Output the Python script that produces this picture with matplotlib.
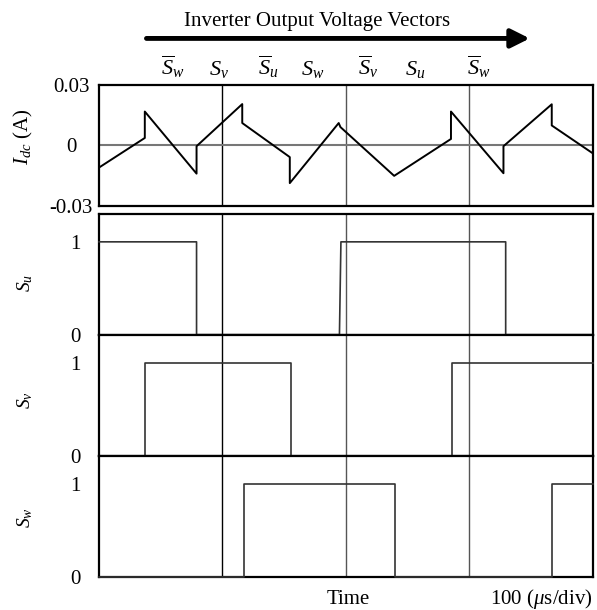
import matplotlib
matplotlib.use("Agg")
import matplotlib.pyplot as plt
import matplotlib.transforms as mtransforms
from matplotlib.patches import FancyArrowPatch

plt.rcParams['font.family'] = ['Liberation Serif', 'DejaVu Serif']
plt.rcParams['mathtext.fontset'] = 'custom'
plt.rcParams['mathtext.rm'] = 'Liberation Serif'
plt.rcParams['mathtext.it'] = 'Liberation Serif:italic'

# DC link current (time in us, current in A)
t_idc = [0, 37.1, 37.1, 79.0, 79.0, 116.0, 116.0, 154.5, 154.5, 194.1, 195.5,
         239.0, 285.0, 285.0, 327.5, 327.5, 366.6, 366.6, 400]
i_dc = [-0.0111, 0.0036, 0.0167, -0.0141, -0.0005, 0.0204, 0.0110, -0.0059, -0.0188,
        0.0110, 0.0090, -0.0152, 0.0031, 0.0167, -0.0139, -0.0005, 0.0203, 0.0098, -0.0041]

# switching states
su_t = [0, 79.0, 79.0, 194.7, 195.9, 329.3, 329.3, 400]
su = [1, 1, 0, 0, 1, 1, 0, 0]
sv_t = [0, 37.1, 37.1, 155.6, 155.6, 285.9, 285.9, 400]
sv = [0, 0, 1, 1, 0, 0, 1, 1]
sw_t = [0, 117.5, 117.5, 240.0, 240.0, 367.2, 367.2, 400]
sw = [0, 0, 1, 1, 0, 0, 1, 1]

vec_labels = [r'$\overline{S}_w$', r'$S_v$', r'$\overline{S}_u$', r'$S_w$',
              r'$\overline{S}_v$', r'$S_u$', r'$\overline{S}_w$']
vec_t = [59.8, 97.0, 137.3, 172.7, 217.6, 256.4, 307.6]

div_t = [100, 200, 300]
div_colors = ['black', '#555555', '#555555']

fig = plt.figure(figsize=(5.97, 6.10), dpi=100)
left, width = 0.1658, 0.8275
ax0 = fig.add_axes([left, 0.6628, width, 0.1983])
ax1 = fig.add_axes([left, 0.4513, width, 0.1979])
ax2 = fig.add_axes([left, 0.2530, width, 0.1983])
ax3 = fig.add_axes([left, 0.0546, width, 0.1984])

ax0.plot(t_idc, i_dc, color='black', lw=1.4, zorder=3)
ax0.axhline(0, color='#777777', lw=1.5, zorder=2)
ax0.set_ylim(-0.03, 0.03)
ax0.set_yticks([0.03, 0, -0.03])
ax0.set_yticklabels(['0.03', '0', '-0.03'])
ax0.tick_params(axis='y', length=0, pad=20, labelsize=15)
for lab in ax0.get_yticklabels():
    lab.set_horizontalalignment('center')

for ax, tt, ss in [(ax1, su_t, su), (ax2, sv_t, sv), (ax3, sw_t, sw)]:
    ax.plot(tt, ss, color='#333333', lw=1.2, zorder=3, clip_on=False)
    ax.set_ylim(0, 1.3)
    ax.set_yticks([0, 1])
    ax.set_yticklabels(['0', '1'])
    ax.tick_params(axis='y', length=0, pad=13, labelsize=15)

for ax in [ax0, ax1, ax2, ax3]:
    ax.set_xlim(0, 400)
    ax.set_xticks([])
    for x, c in zip(div_t, div_colors):
        ax.axvline(x, color=c, lw=1.0, zorder=1)
    for sp in ax.spines.values():
        sp.set_linewidth(1.6)

# y labels
fig.text(0.0385, 0.776, r'$I_{dc}$ (A)', rotation=90, ha='center', va='center', fontsize=15)
fig.text(0.042, 0.536, r'$S_u$', rotation=90, ha='center', va='center', fontsize=14)
fig.text(0.042, 0.344, r'$S_v$', rotation=90, ha='center', va='center', fontsize=14)
fig.text(0.042, 0.151, r'$S_w$', rotation=90, ha='center', va='center', fontsize=14)

# voltage vector labels above the plot
trans = mtransforms.blended_transform_factory(ax0.transData, fig.transFigure)
for lab, t in zip(vec_labels, vec_t):
    fig.text(t, 0.877, lab, transform=trans, ha='center', va='baseline', fontsize=16)

fig.text(0.5305, 0.9644, 'Inverter Output Voltage Vectors', ha='center', va='center', fontsize=15)
fig.add_artist(FancyArrowPatch(
    (0.2407, 0.937), (0.892, 0.937), transform=fig.transFigure,
    arrowstyle='-|>', mutation_scale=28, lw=3.5, color='black'))

fig.text(0.584, 0.018, 'Time', ha='center', va='center', fontsize=15)
fig.text(0.992, 0.018, r'100 ($\mu$s/div)', ha='right', va='center', fontsize=15)

fig.savefig('out.png', dpi=100, facecolor='white')
